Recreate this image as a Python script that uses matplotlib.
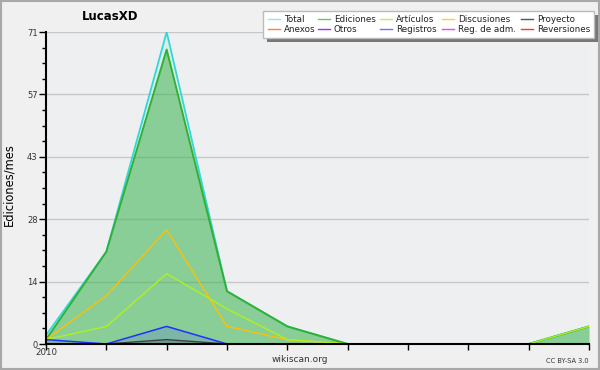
import numpy as np
import matplotlib
matplotlib.use('Agg')
import matplotlib.pyplot as plt
from matplotlib.lines import Line2D
from matplotlib.patches import Rectangle

# monthly values, first month = 2010
months = list(range(10))
x_labels = ['2010', '', '', '', '', '', '', '', '', '']

total       = [2, 21, 71, 12, 4, 0, 0, 0, 0, 4]
ediciones   = [1, 21, 67, 12, 4, 0, 0, 0, 0, 4]
articulos   = [1, 4, 16, 8, 1, 0, 0, 0, 0, 4]
discusiones = [1, 11, 26, 4, 1, 0, 0, 0, 0, 0]
registros   = [1, 0, 4, 0, 0, 0, 0, 0, 0, 0]
proyecto    = [0, 0, 1, 0, 0, 0, 0, 0, 0, 0]

legend_names = ['Total', 'Ediciones', 'Artículos', 'Discusiones', 'Proyecto',
                'Anexos', 'Otros', 'Registros', 'Reg. de adm.', 'Reversiones']
legend_colors = ['#8ee6e6', '#6cc46c', '#c6f03c', '#ffcc33', '#555555',
                 '#ff8040', '#9933ff', '#7070ff', '#ee44ee', '#ff3333']

y_max = 71

plt.rcParams['font.family'] = ['DejaVu Sans']

fig = plt.figure(figsize=(6, 3.7), dpi=100, facecolor='#f0f0f0')
# outer border
fig.add_artist(Rectangle((0.001, 0.002), 0.997, 0.995, transform=fig.transFigure,
                         fill=False, edgecolor='#a8a8a8', linewidth=1.5))

ax = fig.add_axes([46/600, 1-344/370, 543/600, 312/370])
ax.set_facecolor('#eeeff1')

x = np.array(months)
# fills
ax.fill_between(x, total, color='#40e0d0', alpha=0.12, linewidth=0)
ax.fill_between(x, ediciones, color='#3cb043', alpha=0.5, linewidth=0)
ax.fill_between(x, registros, color='#3030ff', alpha=0.15, linewidth=0)
ax.fill_between(x, proyecto, color='#303030', alpha=0.2, linewidth=0)

# lines
ax.plot(x, total, color='#30d8d8', linewidth=1.3)
ax.plot(x, ediciones, color='#33b033', linewidth=1.4)
ax.plot(x, discusiones, color='#ffc000', linewidth=1.0)
ax.plot(x, articulos, color='#b0f020', linewidth=1.0)
ax.plot(x, registros, color='#2030ff', linewidth=1.1)
ax.plot(x, proyecto, color='#404040', linewidth=1.0)

ax.set_xlim(0, 9)
ax.set_ylim(0, y_max)

major = [y_max * i / 5 for i in range(6)]
ax.set_yticks(major)
ax.set_yticklabels([str(int(round(v))) for v in major])
ax.set_yticks([y_max * i / 20 for i in range(21)], minor=True)
ax.set_xticks(x)
ax.set_xticklabels(x_labels)

ax.yaxis.grid(True, color='#c8c8c8', linewidth=1.0)
ax.set_axisbelow(True)
ax.tick_params(axis='y', which='major', length=5, width=1, labelsize=6, pad=1,
               labelcolor='#333333')
ax.tick_params(axis='y', which='minor', length=3, width=1)
ax.tick_params(axis='x', which='major', length=4, width=1, labelsize=6.2, pad=-1,
               labelcolor='#333333')

for side in ['top', 'right']:
    ax.spines[side].set_visible(False)
ax.spines['left'].set_linewidth(1.5)
ax.spines['bottom'].set_linewidth(1.5)

ax.set_ylabel('Ediciones/mes', fontsize=8.3)
ax.yaxis.set_label_coords(-31/543, 0.51)

fig.text(110/600, 1-17/370, 'LucasXD', fontsize=8.5, fontweight='bold',
         ha='center', va='center')
fig.text(300/600, 1-360/370, 'wikiscan.org', fontsize=6.5, ha='center', va='center',
         color='#333333')
fig.text(589/600, 1-361/370, 'CC BY-SA 3.0', fontsize=4.8, ha='right', va='center',
         color='#333333')

# legend box drawn by hand (2 rows x 5 columns)
fig.add_artist(Rectangle((267/600, 1-42/370), 331/600, 27/370, transform=fig.transFigure,
                         facecolor='#777777', edgecolor='none'))
fig.add_artist(Rectangle((263/600, 1-38/370), 331/600, 27/370, transform=fig.transFigure,
                         facecolor='white', edgecolor='#bbbbbb', linewidth=1))
col_x = [268, 318, 380, 442, 521]
row_y = [19, 29]
for i, (name, col) in enumerate(zip(legend_names, legend_colors)):
    cx = col_x[i % 5]
    ry = row_y[i // 5]
    fig.add_artist(Line2D([cx/600, (cx+12)/600], [1-ry/370, 1-ry/370],
                          transform=fig.transFigure, color=col, linewidth=1))
    fig.text((cx+16)/600, 1-ry/370, name, fontsize=6.3, ha='left', va='center',
             color='#222222')

fig.savefig('out.png', dpi=100, facecolor=fig.get_facecolor())
